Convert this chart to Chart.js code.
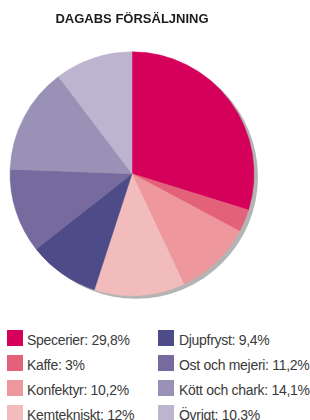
<!DOCTYPE html>
<html>
<head>
<meta charset="utf-8">
<script src="https://cdn.jsdelivr.net/npm/chart.js@4"></script>
<style>
  html, body { margin: 0; padding: 0; background: #fff; }
  body { width: 310px; height: 420px; position: relative; overflow: hidden; font-family: "Liberation Sans", Arial, sans-serif; }
  .chart { position: absolute; left: 0; top: 0; width: 310px; height: 300px; }
  .legend-item { position: absolute; height: 16px; }
  .legend-item .box { position: absolute; left: 0; top: 0; width: 16px; height: 16px; }
  .legend-item .label { position: absolute; top: 2px; white-space: nowrap; font-size: 14px; line-height: 16px; letter-spacing: -0.3px; color: #3a3a3a; }
</style>
</head>
<body>
<div class="chart"><canvas id="pie"></canvas></div>
<div id="legend"></div>
<script>
const title = "DAGABS FÖRSÄLJNING"
const categories = ["Specerier", "Kaffe", "Konfektyr", "Kemtekniskt", "Djupfryst", "Ost och mejeri", "Kött och chark", "Övrigt"]
const shares = [29.8, 3, 10.2, 12, 9.4, 11.2, 14.1, 10.3]
const colors = ["#d5005a", "#e3627a", "#ee979c", "#f2bcbc", "#4d4c88", "#766a9e", "#9a92b6", "#bdb5d0"]

// grey drop shadow behind the pie
const pieShadow = {
  id: "pieShadow",
  beforeDatasetsDraw(chart) {
    const arc = chart.getDatasetMeta(0).data[0]
    if (!arc) return
    const ctx = chart.ctx
    ctx.save()
    ctx.fillStyle = "#b4b4b4"
    ctx.beginPath()
    ctx.arc(arc.x + 4, arc.y + 3, arc.outerRadius, 0, Math.PI * 2)
    ctx.fill()
    ctx.restore()
  },
}

new Chart(document.getElementById("pie"), {
  type: "pie",
  data: {
    labels: categories,
    datasets: [
      {
        data: shares,
        backgroundColor: colors,
        borderColor: colors,
        borderWidth: 0.5,
        hoverOffset: 0,
      },
    ],
  },
  options: {
    responsive: true,
    maintainAspectRatio: false,
    animation: false,
    events: [],
    layout: {
      padding: { left: 0, right: 46, top: 0, bottom: 4 },
    },
    plugins: {
      legend: { display: false },
      tooltip: { enabled: false },
      title: {
        display: true,
        text: title,
        color: "#1c1c1c",
        font: { family: "'Liberation Sans', Arial, sans-serif", size: 13, weight: "bold" },
        padding: { top: 12, bottom: 24 },
      },
    },
  },
  plugins: [pieShadow],
})

// two-column legend, four rows each
const legend = document.getElementById("legend")
categories.forEach((name, i) => {
  const col = Math.floor(i / 4)
  const row = i % 4
  const item = document.createElement("div")
  item.className = "legend-item"
  item.style.left = (col === 0 ? 7 : 158) + "px"
  item.style.top = 330 + row * 25 + "px"
  const box = document.createElement("div")
  box.className = "box"
  box.style.background = colors[i]
  const label = document.createElement("div")
  label.className = "label"
  label.style.left = (col === 0 ? 20 : 21) + "px"
  label.textContent = name + ": " + String(shares[i]).replace(".", ",") + "%"
  item.appendChild(box)
  item.appendChild(label)
  legend.appendChild(item)
})
</script>
</body>
</html>
